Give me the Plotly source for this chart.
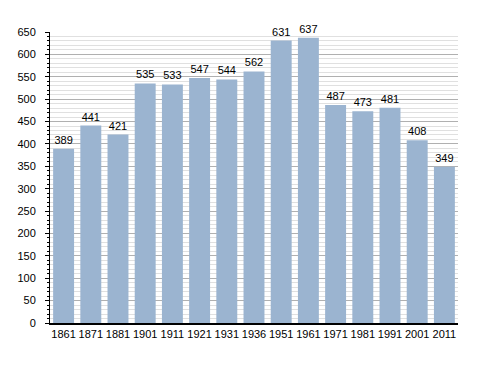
import plotly.graph_objects as go

years = ["1861", "1871", "1881", "1901", "1911", "1921", "1931", "1936", "1951", "1961", "1971", "1981", "1991", "2001", "2011"]
population = [389, 441, 421, 535, 533, 547, 544, 562, 631, 637, 487, 473, 481, 408, 349]

fig = go.Figure(go.Bar(
    x=years, y=population,
    marker=dict(color="#9bb4d0", line=dict(width=0)),
    text=[str(v) for v in population], textposition="outside",
    textfont=dict(color="black", size=11, family="Liberation Sans, Arial"),
    cliponaxis=False,
))

fig.update_layout(
    width=480, height=365,
    margin=dict(l=42, r=30, t=24, b=50),
    paper_bgcolor="white", plot_bgcolor="white",
    bargap=0.23,
    showlegend=False,
    font=dict(family="Liberation Sans, Arial", size=11, color="black"),
)
fig.update_xaxes(
    type="category", showline=True, linecolor="black", linewidth=1.5,
    ticks="", showgrid=False, tickfont=dict(size=11), automargin=False,
)
fig.update_yaxes(
    range=[0, 650], tickmode="linear", dtick=50, tick0=0,
    showline=True, linecolor="black", linewidth=1,
    ticks="outside", ticklen=4, tickcolor="black",
    ticklabelstandoff=7, automargin=False,
    showgrid=True, gridcolor="#b0b0b0", gridwidth=1,
    zeroline=False,
    minor=dict(dtick=10, ticks="outside", ticklen=2, tickcolor="black",
               showgrid=True, gridcolor="#e0e0e0", gridwidth=1),
    tickfont=dict(size=11),
)

fig.write_html("out.html")
